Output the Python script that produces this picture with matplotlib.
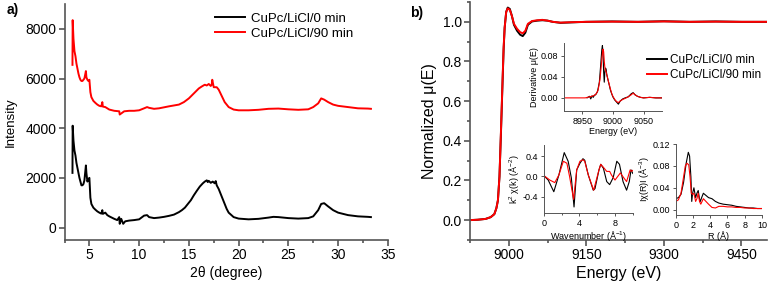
import matplotlib
matplotlib.use("Agg")
import matplotlib.pyplot as plt
from matplotlib.ticker import MultipleLocator, FormatStrFormatter

plt.rcParams['font.family'] = ['Liberation Sans', 'DejaVu Sans']
plt.rcParams['mathtext.fontset'] = 'custom'
plt.rcParams['mathtext.rm'] = 'Liberation Sans'
plt.rcParams['mathtext.it'] = 'Liberation Sans:italic'

# ---------------- data: panel a (XRD) ----------------
labels = ["CuPc/LiCl/0 min", "CuPc/LiCl/90 min"]

xrd_2theta_0 = [3.30, 3.32, 3.4, 3.5, 3.6, 3.7, 3.8, 3.9, 4.0, 4.1, 4.2, 4.3, 4.4, 4.5, 4.6, 4.65, 4.7, 4.8,
                4.9, 5.0, 5.05, 5.1, 5.2, 5.4, 5.6, 5.8, 6.0, 6.2, 6.3, 6.35, 6.6, 6.8, 7.0, 7.5, 7.8, 8.0, 8.05,
                8.2, 8.4, 8.6, 9.0, 9.5, 10.0, 10.5, 10.8, 11.0, 11.5, 12.0, 12.5, 13.0, 13.5, 14.0, 14.3, 14.6,
                14.9, 15.2, 15.5, 15.8, 16.1, 16.4, 16.6, 16.8, 16.9, 17.0, 17.2, 17.4, 17.6, 17.7, 17.8, 18.0,
                18.2, 18.4, 18.6, 18.8, 19.0, 19.5, 20.0, 21.0, 22.0, 23.0, 23.5, 24.0, 25.0, 26.0, 27.0, 27.5,
                28.0, 28.3, 28.6, 29.0, 29.5, 30.0, 31.0, 32.0, 33.0, 33.3]
xrd_int_0 = [2200, 4100, 3500, 3100, 2900, 2600, 2400, 2200, 2000, 1850, 1700, 1700, 1750, 1900, 2300, 2500, 2200, 1850,
             1950, 2000, 1600, 1200, 950, 800, 720, 650, 600, 560, 700, 550, 600, 500, 450, 350, 300, 420, 150,
             350, 150, 250, 280, 300, 330, 480, 500, 420, 380, 400, 430, 470, 520, 620, 700, 800,
             950, 1100, 1300, 1480, 1650, 1780, 1850, 1900, 1830, 1880, 1800, 1850, 1780, 1870, 1700, 1550,
             1350, 1150, 950, 750, 600, 420, 360, 330, 350, 400, 430, 420, 380, 360, 380, 450,
             700, 950, 980, 850, 700, 600, 500, 450, 430, 420]

xrd_2theta_90 = [3.30, 3.32, 3.4, 3.5, 3.6, 3.7, 3.8, 3.9, 4.0, 4.1, 4.2, 4.3, 4.4, 4.5, 4.6, 4.65, 4.7, 4.8,
                 4.9, 5.0, 5.05, 5.1, 5.2, 5.4, 5.6, 5.8, 6.0, 6.2, 6.3, 6.35, 6.6, 7.0, 7.5, 8.0, 8.05, 8.5,
                 9.0, 9.5, 10.0, 10.5, 10.8, 11.0, 11.5, 12.0, 13.0, 14.0, 14.5, 15.0, 15.5, 16.0, 16.3, 16.6,
                 16.8, 17.0, 17.2, 17.3, 17.35, 17.5, 17.8, 18.0, 18.3, 18.6, 19.0, 19.5, 20.0, 21.0, 22.0, 23.0,
                 24.0, 25.0, 26.0, 27.0, 27.5, 28.0, 28.3, 28.6, 29.0, 29.5, 30.0, 31.0, 32.0, 33.0, 33.3]
xrd_int_90 = [6550, 8350, 7600, 7100, 6900, 6600, 6400, 6200, 6050, 5950, 5900, 5900, 5950, 6000, 6200, 6300, 6050, 5950,
              5900, 5950, 5700, 5450, 5250, 5100, 5020, 4950, 4900, 4880, 5050, 4870, 4850, 4750, 4700, 4680, 4550, 4680,
              4700, 4700, 4720, 4800, 4850, 4820, 4780, 4800, 4880, 4950, 5050, 5200, 5400, 5600, 5680, 5750,
              5720, 5780, 5700, 5760, 5950, 5650, 5650, 5550, 5300, 5050, 4850, 4750, 4720, 4720, 4740, 4780,
              4790, 4760, 4740, 4760, 4850, 5000, 5200, 5150, 5050, 4950, 4900, 4850, 4800, 4790, 4780]

# ---------------- data: panel b (XANES) ----------------
e_0 = [8925, 8940, 8955, 8965, 8972, 8976, 8979, 8982, 8985, 8988, 8990, 8992, 8995, 8998, 9002, 9006, 9010,
       9016, 9022, 9027, 9032, 9037, 9045, 9055, 9065, 9075, 9085, 9100, 9120, 9150, 9200, 9250, 9300, 9350,
       9400, 9450, 9500]
mu_0 = [0.0, 0.002, 0.006, 0.015, 0.03, 0.06, 0.10, 0.22, 0.45, 0.70, 0.86, 0.97, 1.05, 1.072, 1.065, 1.03, 0.985,
        0.955, 0.935, 0.928, 0.945, 0.985, 1.002, 1.006, 1.008, 1.006, 1.0, 0.995, 0.997, 1.0, 1.002, 1.0, 1.003, 1.0,
        1.002, 1.0, 1.0]
e_90 = e_0
mu_90 = [0.0, 0.002, 0.006, 0.015, 0.03, 0.06, 0.10, 0.22, 0.46, 0.71, 0.87, 0.97, 1.05, 1.068, 1.06, 1.03, 0.99,
         0.965, 0.948, 0.942, 0.955, 0.99, 1.004, 1.008, 1.01, 1.006, 1.0, 0.996, 0.998, 1.0, 1.001, 1.0, 1.002, 1.0,
         1.001, 1.0, 1.0]

# derivative inset
de_0 = [8958, 8962, 8964, 8966, 8968, 8970, 8972, 8975, 8978, 8980, 8982, 8983, 8984, 8985, 8986, 8987, 8988, 8989,
        8990, 8992, 8994, 8996, 8998, 9000, 9003, 9006, 9009, 9012, 9016, 9020, 9025, 9030, 9033, 9036, 9040, 9045,
        9050, 9060, 9070, 9080, 9088]
dmu_0 = [0.0, 0.003, -0.002, 0.004, 0.001, 0.005, 0.006, 0.012, 0.03, 0.06, 0.092, 0.10, 0.085, 0.05, 0.03, 0.05,
         0.057, 0.055, 0.045, 0.035, 0.025, 0.015, 0.008, 0.002, -0.004, -0.008, -0.012, -0.006, -0.002, 0.0, 0.002,
         0.008, 0.01, 0.006, 0.003, 0.001, 0.0, 0.001, 0.0, 0.0, 0.0]
de_90 = [8920, 8940, 8955, 8962, 8966, 8970, 8973, 8976, 8979, 8981, 8983, 8984, 8985, 8986, 8987, 8988, 8989, 8990,
         8992, 8994, 8996, 8998, 9000, 9003, 9006, 9009, 9012, 9016, 9020, 9025, 9030, 9033, 9036, 9040, 9045, 9050,
         9060, 9070, 9080, 9088]
dmu_90 = [0.0, 0.0, 0.0, 0.002, 0.003, 0.005, 0.008, 0.015, 0.035, 0.06, 0.085, 0.093, 0.088, 0.07, 0.058, 0.052,
          0.05, 0.045, 0.035, 0.026, 0.017, 0.009, 0.003, -0.003, -0.007, -0.009, -0.006, -0.003, -0.001, 0.002,
          0.006, 0.009, 0.006, 0.003, 0.001, 0.0, 0.001, 0.0, 0.0, 0.0]

# chi(k) inset
k_0 = [0.0, 0.5, 1.13, 1.7, 2.3, 2.74, 3.1, 3.4, 3.7, 4.06, 4.4, 4.6, 5.0, 5.56, 5.75, 6.2, 6.4, 6.7, 7.07, 7.4, 7.8,
       8.2, 8.5, 8.9, 9.3, 9.6, 9.8, 10.0]
chi_0 = [0.02, -0.07, -0.3, 0.03, 0.47, 0.3, -0.03, -0.6, 0.13, 0.26, 0.35, 0.32, 0.03, -0.27, -0.24, 0.13, 0.24, 0.16,
         -0.1, -0.16, -0.02, 0.3, 0.24, -0.1, -0.27, -0.1, 0.13, 0.06]
k_90 = [0.0, 0.68, 1.24, 1.7, 2.2, 2.6, 2.9, 3.35, 3.7, 4.06, 4.4, 4.6, 5.0, 5.6, 6.2, 6.4, 6.7, 7.07, 7.4, 7.6, 8.0,
        8.3, 8.6, 9.0, 9.3, 9.7, 9.85, 10.0]
chi_90 = [0.02, -0.07, -0.12, 0.03, 0.3, 0.26, 0.0, -0.45, 0.13, 0.3, 0.33, 0.3, 0.03, -0.27, 0.13, 0.24, 0.18, 0.1,
          0.1, 0.03, -0.07, 0.0, 0.07, -0.03, -0.1, 0.13, 0.1, 0.12]

# |chi(R)| inset
r_0 = [0.0, 0.3, 0.6, 0.9, 1.2, 1.45, 1.6, 1.75, 1.85, 1.95, 2.1, 2.3, 2.45, 2.6, 2.75, 2.85, 3.0, 3.2, 3.5, 3.8,
       4.2, 4.6, 5.0, 5.5, 6.0, 6.5, 7.0, 7.5, 8.0, 8.5, 9.0, 9.5, 10.0]
chir_0 = [0.02, 0.022, 0.028, 0.05, 0.085, 0.105, 0.098, 0.06, 0.015, 0.03, 0.04, 0.022, 0.03, 0.035, 0.02, 0.015,
          0.022, 0.03, 0.026, 0.022, 0.02, 0.015, 0.012, 0.01, 0.009, 0.008, 0.006, 0.005, 0.004, 0.003, 0.003,
          0.002, 0.002]
r_90 = [0.0, 0.3, 0.6, 0.9, 1.1, 1.3, 1.5, 1.65, 1.8, 1.95, 2.1, 2.3, 2.45, 2.6, 2.75, 2.9, 3.05, 3.2, 3.5, 3.8,
        4.2, 4.6, 5.0, 5.5, 6.0, 6.5, 7.0, 7.5, 8.0, 8.5, 9.0, 9.5, 10.0]
chir_90 = [0.015, 0.018, 0.03, 0.06, 0.08, 0.085, 0.082, 0.06, 0.03, 0.028, 0.03, 0.015, 0.02, 0.03, 0.015, 0.01,
           0.015, 0.02, 0.015, 0.01, 0.004, 0.003, 0.006, 0.006, 0.005, 0.005, 0.004, 0.004, 0.003, 0.003, 0.002,
           0.002, 0.002]

BLACK = "#000000"
RED = "#ff0000"
SPINE = "#555555"

fig = plt.figure(figsize=(7.68, 2.86), dpi=100)


def style(ax, lw=1.0, ticklen=3.5, labelsize=10):
    ax.spines['top'].set_visible(False)
    ax.spines['right'].set_visible(False)
    for s in ('left', 'bottom'):
        ax.spines[s].set_color(SPINE)
        ax.spines[s].set_linewidth(lw)
    ax.tick_params(which='major', direction='out', length=ticklen, width=lw, color=SPINE,
                   labelsize=labelsize, pad=2)
    ax.tick_params(which='minor', direction='out', length=ticklen * 0.6, width=lw, color=SPINE)
    ax.patch.set_alpha(0)


# ---------- panel a ----------
axa = fig.add_axes([0.084, 0.161, 0.421, 0.825])
axa.plot(xrd_2theta_0, xrd_int_0, color=BLACK, lw=1.4, label=labels[0])
axa.plot(xrd_2theta_90, xrd_int_90, color=RED, lw=1.4, label=labels[1])
axa.set_xlim(2.5, 35)
axa.set_ylim(-500, 9000)
axa.set_xticks([5, 10, 15, 20, 25, 30, 35])
axa.xaxis.set_minor_locator(MultipleLocator(2.5))
axa.set_yticks([0, 2000, 4000, 6000, 8000])
style(axa, lw=1.2, ticklen=4, labelsize=10)
axa.set_xlabel("2θ (degree)", fontsize=10, labelpad=3)
axa.set_ylabel("Intensity", fontsize=9.5, labelpad=6)
axa.legend(loc='upper left', bbox_to_anchor=(0.28, 0.955), bbox_transform=fig.transFigure,
           frameon=False, fontsize=9.5, handlelength=2.3, handletextpad=0.45, borderpad=0,
           labelspacing=0.2, borderaxespad=0)
fig.text(0.008, 0.965, "a)", fontsize=10, fontweight='bold', va='center', ha='left')

# ---------- panel b ----------
axb = fig.add_axes([0.612, 0.161, 0.387, 0.832])
lb0, = axb.plot(e_0, mu_0, color=BLACK, lw=1.4, label=labels[0])
lb1, = axb.plot(e_90, mu_90, color=RED, lw=1.4, label=labels[1])
axb.set_xlim(8925, 9500)
axb.set_ylim(-0.1, 1.1)
axb.set_xticks([9000, 9150, 9300, 9450])
axb.xaxis.set_minor_locator(MultipleLocator(75))
axb.set_yticks([0.0, 0.2, 0.4, 0.6, 0.8, 1.0])
axb.yaxis.set_minor_locator(MultipleLocator(0.1))
axb.yaxis.set_major_formatter(FormatStrFormatter('%.1f'))
style(axb, lw=1.2, ticklen=4, labelsize=10)
axb.set_xlabel("Energy (eV)", fontsize=11.5, labelpad=3)
axb.set_ylabel("Normalized μ(E)", fontsize=11.5, labelpad=4)
fig.legend(handles=[lb0, lb1], loc='upper left', bbox_to_anchor=(0.842, 0.81),
           frameon=False, fontsize=8.5, handlelength=1.7, handletextpad=0.3, borderpad=0,
           labelspacing=0.2, borderaxespad=0)
fig.text(0.543, 0.955, "b)", fontsize=10, fontweight='bold', va='center', ha='center')

# inset 1: derivative
ax1 = fig.add_axes([0.734, 0.612, 0.128, 0.238])
ax1.plot(de_0, dmu_0, color=BLACK, lw=0.8)
ax1.plot(de_90, dmu_90, color=RED, lw=0.8)
ax1.set_xlim(8920, 9080)
ax1.set_ylim(-0.025, 0.105)
ax1.set_xticks([8950, 9000, 9050])
ax1.set_yticks([0.0, 0.04, 0.08])
ax1.yaxis.set_major_formatter(FormatStrFormatter('%.2f'))
style(ax1, lw=0.7, ticklen=2, labelsize=6.5)
ax1.set_xlabel("Energy (eV)", fontsize=6.5, labelpad=1)
ax1.set_ylabel("Derivative μ(E)", fontsize=6.5, labelpad=1)

# inset 2: chi(k)
ax2 = fig.add_axes([0.708, 0.255, 0.116, 0.238])
ax2.plot(k_0, chi_0, color=BLACK, lw=0.8)
ax2.plot(k_90, chi_90, color=RED, lw=0.8)
ax2.set_xlim(0, 10)
ax2.set_ylim(-0.72, 0.62)
ax2.set_xticks([0, 4, 8])
ax2.xaxis.set_minor_locator(MultipleLocator(2))
ax2.set_yticks([-0.4, 0.0, 0.4])
ax2.yaxis.set_major_formatter(FormatStrFormatter('%.1f'))
style(ax2, lw=0.7, ticklen=2, labelsize=6.5)
ax2.set_xlabel(r"Wavenumber (Å$^{-1}$)", fontsize=6.5, labelpad=1)
ax2.set_ylabel(r"k$^{2}$ χ(k) (Å$^{-2}$)", fontsize=6.5, labelpad=1)

# inset 3: |chi(R)|
ax3 = fig.add_axes([0.880, 0.248, 0.112, 0.248])
ax3.plot(r_0, chir_0, color=BLACK, lw=0.8)
ax3.plot(r_90, chir_90, color=RED, lw=0.8)
ax3.set_xlim(0, 10)
ax3.set_ylim(-0.01, 0.12)
ax3.set_xticks([0, 2, 4, 6, 8, 10])
ax3.set_yticks([0.0, 0.04, 0.08, 0.12])
ax3.yaxis.set_major_formatter(FormatStrFormatter('%.2f'))
style(ax3, lw=0.7, ticklen=2, labelsize=6.5)
ax3.set_xlabel("R (Å)", fontsize=6.5, labelpad=1)
ax3.set_ylabel(r"Iχ(R)I (Å$^{-3}$)", fontsize=6.5, labelpad=1)

fig.savefig("out.png", dpi=100)
